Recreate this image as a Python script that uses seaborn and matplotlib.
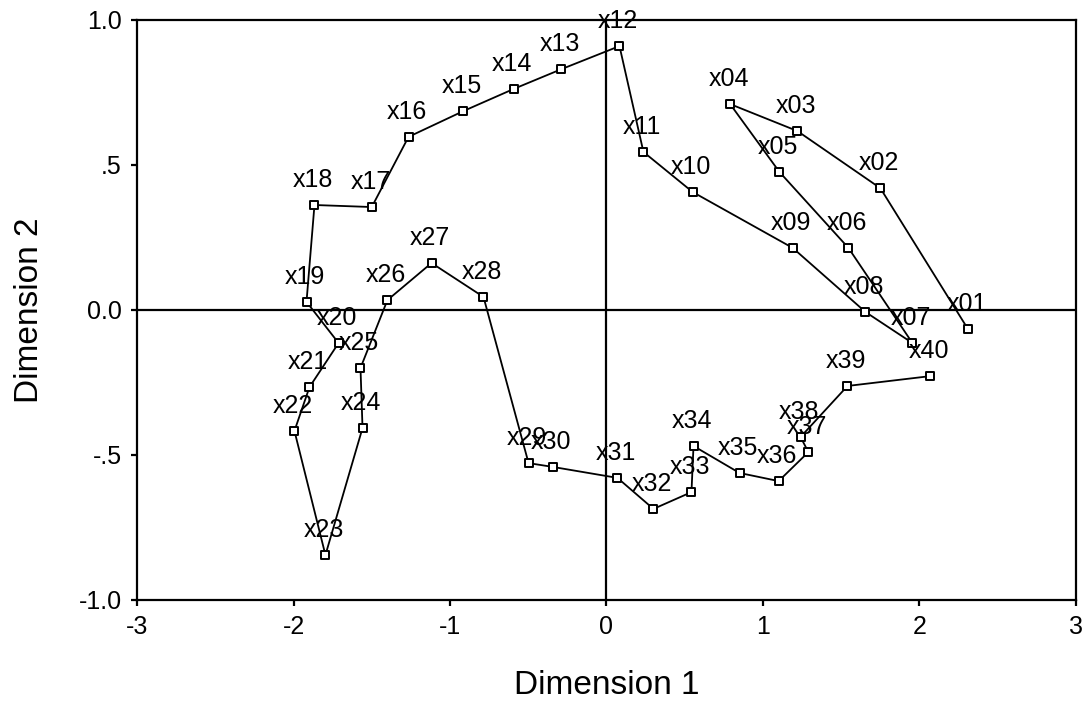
import numpy as np
import pandas as pd
import matplotlib
matplotlib.use("Agg")
import matplotlib.pyplot as plt
import seaborn as sns

# point labels and coordinates
labels = [f"x{i:02d}" for i in range(1, 41)]
dim1 = [2.31, 1.75, 1.22, 0.79, 1.105, 1.546, 1.955, 1.655, 1.19, 0.55,
        0.236, 0.083, -0.29, -0.594, -0.914, -1.265, -1.50, -1.866, -1.917, -1.712,
        -1.898, -1.994, -1.796, -1.559, -1.572, -1.40, -1.118, -0.786, -0.498, -0.345,
        0.07, 0.30, 0.543, 0.556, 0.85, 1.10, 1.29, 1.24, 1.54, 2.07]
dim2 = [-0.066, 0.42, 0.617, 0.71, 0.476, 0.214, -0.114, -0.007, 0.214, 0.407,
        0.545, 0.91, 0.83, 0.762, 0.686, 0.597, 0.355, 0.362, 0.028, -0.114,
        -0.266, -0.417, -0.845, -0.407, -0.2, 0.034, 0.162, 0.045, -0.528, -0.541,
        -0.579, -0.686, -0.628, -0.469, -0.562, -0.59, -0.49, -0.438, -0.262, -0.228]

x_ticks = [-3, -2, -1, 0, 1, 2, 3]
y_ticks = [-1.0, -0.5, 0.0, 0.5, 1.0]
y_tick_labels = ["-1.0", "-.5", "0.0", ".5", "1.0"]

df = pd.DataFrame({"label": labels, "dim1": dim1, "dim2": dim2})

sns.set_style("white")
plt.rcParams["font.family"] = ["Liberation Sans", "DejaVu Sans"]
plt.rcParams.update({"text.color": "black", "axes.labelcolor": "black",
                     "xtick.color": "black", "ytick.color": "black"})

fig = plt.figure(figsize=(10.84, 7.24), dpi=100)
ax = fig.add_axes([0.1264, 0.1713, 0.8662, 0.8011])

ax.axhline(0, color="black", lw=1.6, zorder=1)
ax.axvline(0, color="black", lw=1.6, zorder=1)

sns.lineplot(data=df, x="dim1", y="dim2", sort=False, estimator=None,
             color="black", lw=1.3, ax=ax, zorder=2)
sns.scatterplot(data=df, x="dim1", y="dim2", marker="s", s=28,
                facecolor="white", edgecolor="black", linewidth=1.4, ax=ax, zorder=3)

for _, r in df.iterrows():
    ax.annotate(r["label"], (r["dim1"], r["dim2"]), xytext=(-1, 13),
                textcoords="offset points", ha="center", va="baseline",
                fontsize=18, zorder=4)

ax.set_xlim(-3, 3)
ax.set_ylim(-1, 1)
ax.set_xticks(x_ticks)
ax.set_xticklabels([str(t) for t in x_ticks])
ax.set_yticks(y_ticks)
ax.set_yticklabels(y_tick_labels)
ax.tick_params(direction="out", length=4, width=1.6, labelsize=18,
               bottom=True, left=True, pad=7)
for s in ax.spines.values():
    s.set_color("black")
    s.set_linewidth(1.6)

ax.set_xlabel("Dimension 1", fontsize=24, labelpad=22)
ax.set_ylabel("Dimension 2", fontsize=24, labelpad=24)

fig.savefig("out.png", dpi=100)
